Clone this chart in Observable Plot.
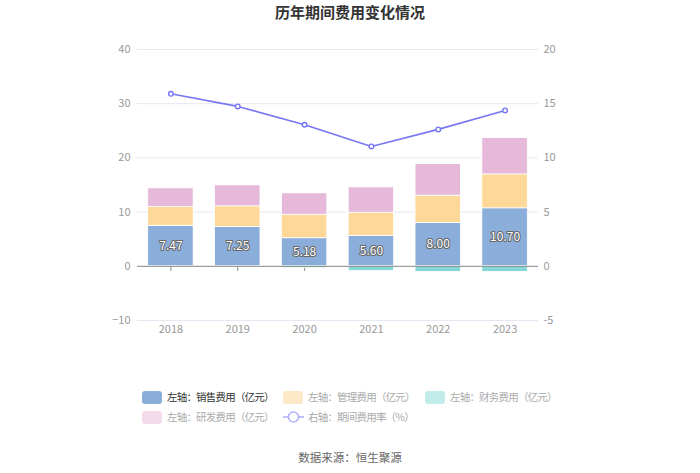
<!DOCTYPE html>
<html><head><meta charset="utf-8">
<script src="https://cdn.jsdelivr.net/npm/d3@7"></script>
<script src="https://cdn.jsdelivr.net/npm/@observablehq/plot@0.6"></script>
<style>
body{margin:0;width:700px;height:473px;background:#fff;font-family:"Noto Sans CJK SC","Noto Sans",sans-serif;position:relative;overflow:hidden}
#title{position:absolute;top:0;left:0;width:700px;text-align:center;font-size:15px;font-weight:bold;color:#333;line-height:24px}
#chart{position:absolute;top:24px;left:0}
.leg{position:absolute;font-size:10.5px;line-height:14px;white-space:nowrap;color:#aaa;letter-spacing:-0.8px}
.sw{position:absolute;width:20px;height:13px;border-radius:3px}
#source{position:absolute;top:449px;left:0;width:700px;text-align:center;font-size:11.5px;color:#666}
</style></head>
<body>
<div id="title">历年期间费用变化情况</div>
<div id="chart"></div>
<div id="legend"></div>
<div id="source">数据来源：恒生聚源</div>
<script>
const years = ["2018","2019","2020","2021","2022","2023"];
const sales = [7.47, 7.25, 5.18, 5.60, 8.00, 10.70];
const admin = [3.47, 3.81, 4.34, 4.29, 5.03, 6.26];
const finance = [-0.02, -0.06, -0.35, -0.85, -1.04, -1.03];
const rnd = [3.44, 3.87, 3.94, 4.67, 5.83, 6.70];
const rate = [15.91, 14.75, 13.06, 11.06, 12.63, 14.38];
const leftTicks = [-10, 0, 10, 20, 30, 40];

const seriesNames = ["销售费用", "管理费用", "财务费用", "研发费用"];
const seriesVals = [sales, admin, finance, rnd];
const colors = ["#8badda", "#fed898", "#85d7d6", "#e6b9da"];

const rows = [];
seriesNames.forEach((s, i) => years.forEach((y, j) => rows.push({year: y, series: s, value: seriesVals[i][j]})));
const lineData = years.map((y, j) => ({year: y, v: rate[j] * 2}));
const labelData = years.map((y, j) => ({year: y, v: sales[j]}));

const chart = Plot.plot({
  width: 700,
  height: 320,
  marginTop: 25,
  marginBottom: 24,
  marginLeft: 137,
  marginRight: 162,
  style: {fontFamily: '"Noto Sans CJK SC","Noto Sans",sans-serif', fontSize: "11px", color: "#999", background: "transparent"},
  x: {domain: years, paddingInner: 0.32, paddingOuter: 0.16, round: false},
  y: {domain: [-10, 40]},
  color: {domain: seriesNames, range: colors},
  marks: [
    Plot.ruleY(leftTicks.filter(d => d !== 0), {stroke: "#e3e8f2", strokeWidth: 1}),
    Plot.ruleX(years, {x: d => d, y1: 0, y2: -0.95, stroke: "#888"}),
    Plot.barY(rows, {x: "year", y: "value", fill: "series", stroke: "#fff", strokeWidth: 0.8, order: seriesNames}),
    Plot.ruleY([0], {stroke: "#888", strokeWidth: 1}),
    Plot.axisY({ticks: leftTicks, anchor: "left", tickSize: 0, tickPadding: 7, fill: "#999", fontSize: 11, label: null}),
    Plot.axisY({ticks: leftTicks, anchor: "right", tickSize: 0, tickPadding: 5, fill: "#999", fontSize: 11, label: null, tickFormat: d => String(d / 2)}),
    Plot.axisX({anchor: "bottom", tickSize: 0, tickPadding: 5, fill: "#999", fontSize: 11, label: null}),
    Plot.line(lineData, {x: "year", y: "v", stroke: "#7777f4", strokeWidth: 1.6}),
    Plot.dot(lineData, {x: "year", y: "v", r: 2.3, stroke: "#7777f4", strokeWidth: 1.4, fill: "#fff"}),
    Plot.text(labelData, {x: "year", y: d => d.v / 2, text: d => d.v.toFixed(2), fill: "#fff", stroke: "#666", strokeWidth: 2, fontSize: 12, paintOrder: "stroke"})
  ]
});
document.getElementById("chart").appendChild(chart);

const legendItems = [
  {label: "左轴：销售费用（亿元）", x: 142, y: 397, type: "box", color: "#8badda", text: "#333"},
  {label: "左轴：管理费用（亿元）", x: 283, y: 397, type: "box", color: "#fde8c8", text: "#aaa"},
  {label: "左轴：财务费用（亿元）", x: 425, y: 397, type: "box", color: "#c2ecea", text: "#aaa"},
  {label: "左轴：研发费用（亿元）", x: 142, y: 417, type: "box", color: "#f3dbec", text: "#aaa"},
  {label: "右轴：期间费用率（%）", x: 283, y: 417, type: "line", color: "#b2b2f8", text: "#aaa"}
];
const leg = document.getElementById("legend");
legendItems.forEach(it => {
  if (it.type === "box") {
    const s = document.createElement("div");
    s.className = "sw";
    s.style.left = it.x + "px"; s.style.top = (it.y - 6.5) + "px"; s.style.background = it.color;
    leg.appendChild(s);
  } else {
    const ns = "http://www.w3.org/2000/svg";
    const svg = document.createElementNS(ns, "svg");
    svg.setAttribute("width", 22); svg.setAttribute("height", 14);
    svg.style.position = "absolute"; svg.style.left = it.x + "px"; svg.style.top = (it.y - 7) + "px";
    const l = document.createElementNS(ns, "line");
    l.setAttribute("x1", 0); l.setAttribute("x2", 21); l.setAttribute("y1", 7); l.setAttribute("y2", 7);
    l.setAttribute("stroke", it.color); l.setAttribute("stroke-width", 1.6);
    const c = document.createElementNS(ns, "circle");
    c.setAttribute("cx", 10.5); c.setAttribute("cy", 7); c.setAttribute("r", 5);
    c.setAttribute("fill", "#fff"); c.setAttribute("stroke", it.color); c.setAttribute("stroke-width", 1.6);
    svg.appendChild(l); svg.appendChild(c);
    leg.appendChild(svg);
  }
  const t = document.createElement("div");
  t.className = "leg";
  t.textContent = it.label;
  t.style.left = (it.x + 25) + "px"; t.style.top = (it.y - 7) + "px"; t.style.color = it.text;
  leg.appendChild(t);
});
</script>
</body></html>
